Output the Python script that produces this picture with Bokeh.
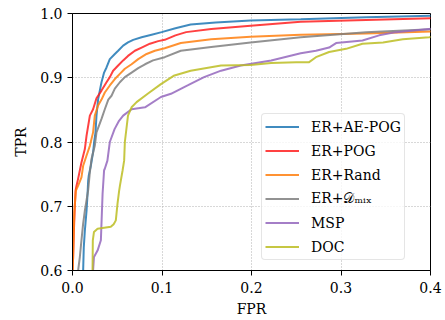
from bokeh.plotting import figure
from bokeh.models import Legend, LegendItem, FixedTicker, PrintfTickFormatter, Range1d
from bokeh.embed import file_html
from bokeh.resources import INLINE

# ROC curves (FPR, TPR)
aepog_fpr = [0.0119, 0.0126, 0.0138, 0.0157, 0.0168, 0.0175, 0.0182, 0.0205, 0.023, 0.0242, 0.0257, 0.0268, 0.0286, 0.0305, 0.0324, 0.0353, 0.038, 0.0417, 0.0473, 0.051, 0.0566, 0.062, 0.0678, 0.0772, 0.0884, 0.0996, 0.115, 0.132, 0.16, 0.199, 0.255, 0.328, 0.406]
aepog_tpr = [0.600, 0.636, 0.662, 0.693, 0.719, 0.740, 0.748, 0.763, 0.784, 0.800, 0.815, 0.841, 0.866, 0.880, 0.893, 0.908, 0.916, 0.929, 0.937, 0.942, 0.950, 0.955, 0.959, 0.963, 0.967, 0.971, 0.977, 0.983, 0.986, 0.989, 0.991, 0.994, 0.9966]

pog_fpr = [0.0, 0.0007, 0.0015, 0.0026, 0.0035, 0.0045, 0.0063, 0.010, 0.0138, 0.0157, 0.0194, 0.023, 0.0268, 0.0324, 0.038, 0.0417, 0.0454, 0.051, 0.0566, 0.062, 0.0697, 0.0772, 0.0865, 0.0958, 0.103, 0.115, 0.127, 0.155, 0.199, 0.255, 0.328, 0.406]
pog_tpr = [0.600, 0.620, 0.660, 0.700, 0.725, 0.732, 0.743, 0.768, 0.789, 0.810, 0.841, 0.851, 0.868, 0.880, 0.893, 0.901, 0.911, 0.919, 0.927, 0.934, 0.942, 0.947, 0.953, 0.957, 0.959, 0.966, 0.971, 0.976, 0.981, 0.987, 0.990, 0.993]

rand_fpr = [0.0003, 0.001, 0.002, 0.0037, 0.0063, 0.010, 0.0119, 0.0157, 0.0194, 0.023, 0.0249, 0.0286, 0.0324, 0.0361, 0.0417, 0.0473, 0.0529, 0.0585, 0.066, 0.0734, 0.0828, 0.092, 0.103, 0.121, 0.155, 0.199, 0.255, 0.328, 0.406]
rand_tpr = [0.600, 0.640, 0.690, 0.724, 0.732, 0.745, 0.763, 0.779, 0.794, 0.815, 0.841, 0.857, 0.866, 0.877, 0.888, 0.898, 0.906, 0.914, 0.921, 0.929, 0.937, 0.942, 0.946, 0.954, 0.960, 0.964, 0.967, 0.969, 0.972]

mix_fpr = [0.0063, 0.0082, 0.010, 0.0119, 0.0138, 0.0175, 0.0194, 0.0213, 0.0249, 0.0268, 0.0324, 0.0361, 0.040, 0.0436, 0.0473, 0.0529, 0.0585, 0.066, 0.0734, 0.081, 0.090, 0.103, 0.121, 0.155, 0.199, 0.255, 0.328, 0.406]
mix_tpr = [0.600, 0.621, 0.647, 0.673, 0.693, 0.725, 0.753, 0.774, 0.794, 0.815, 0.836, 0.851, 0.866, 0.872, 0.883, 0.893, 0.901, 0.908, 0.915, 0.921, 0.927, 0.932, 0.942, 0.948, 0.955, 0.963, 0.971, 0.976]

msp_fpr = [0.023, 0.024, 0.028, 0.0317, 0.0336, 0.0353, 0.036, 0.039, 0.0417, 0.047, 0.052, 0.0566, 0.066, 0.081, 0.0988, 0.110, 0.1286, 0.147, 0.166, 0.188, 0.222, 0.255, 0.272, 0.2867, 0.2945, 0.324, 0.3426, 0.3616, 0.3985, 0.406]
msp_tpr = [0.600, 0.621, 0.631, 0.647, 0.719, 0.756, 0.758, 0.771, 0.800, 0.820, 0.833, 0.841, 0.851, 0.854, 0.870, 0.875, 0.888, 0.901, 0.911, 0.919, 0.927, 0.938, 0.942, 0.947, 0.954, 0.958, 0.966, 0.971, 0.976, 0.9765]

doc_fpr = [0.0224, 0.0227, 0.024, 0.028, 0.0428, 0.046, 0.0484, 0.0503, 0.0521, 0.053, 0.056, 0.0577, 0.0585, 0.062, 0.066, 0.0716, 0.084, 0.0988, 0.113, 0.132, 0.166, 0.199, 0.222, 0.250, 0.264, 0.272, 0.2867, 0.3057, 0.324, 0.347, 0.369, 0.3985, 0.406]
doc_tpr = [0.600, 0.647, 0.660, 0.665, 0.668, 0.672, 0.678, 0.704, 0.724, 0.732, 0.756, 0.771, 0.800, 0.841, 0.854, 0.862, 0.875, 0.890, 0.903, 0.911, 0.919, 0.920, 0.923, 0.924, 0.924, 0.932, 0.940, 0.945, 0.953, 0.955, 0.960, 0.963, 0.964]

labels = ["ER+AE-POG", "ER+POG", "ER+Rand", "ER+\U0001D49F\u2098\u1D62\u2093", "MSP", "DOC"]
colors = ["#1f77b4", "#ff2020", "#ff7f0e", "#7f7f7f", "#9467bd", "#bcbd22"]
series = [(aepog_fpr, aepog_tpr), (pog_fpr, pog_tpr), (rand_fpr, rand_tpr),
          (mix_fpr, mix_tpr), (msp_fpr, msp_tpr), (doc_fpr, doc_tpr)]

x_ticks = [0.0, 0.1, 0.2, 0.3, 0.4]
y_ticks = [0.6, 0.7, 0.8, 0.9, 1.0]

FONT = "DejaVu Serif"
FS = "14px"

p = figure(frame_width=358, frame_height=257, output_backend="svg", toolbar_location=None,
           x_range=Range1d(0, 0.4), y_range=Range1d(0.6, 1.0),
           min_border_left=72, min_border_right=15, min_border_top=13, min_border_bottom=50)

renderers = []
for (fx, ty), c in zip(series, colors):
    r = p.line(fx, ty, line_color=c, line_width=2, line_alpha=0.85)
    renderers.append(r)

p.outline_line_color = "black"
p.outline_line_width = 1
p.outline_line_alpha = 1

for ax, ticks in ((p.xaxis, x_ticks), (p.yaxis, y_ticks)):
    ax.ticker = FixedTicker(ticks=ticks)
    ax.formatter = PrintfTickFormatter(format="%.1f")
    ax.axis_line_color = "black"
    ax.major_tick_line_color = "black"
    ax.major_tick_in = 0
    ax.major_tick_out = 5
    ax.minor_tick_line_color = None
    ax.major_label_text_font = FONT
    ax.major_label_text_font_size = FS
    ax.major_label_text_color = "black"
    ax.axis_label_text_font = FONT
    ax.axis_label_text_font_size = FS
    ax.axis_label_text_font_style = "normal"
    ax.axis_label_text_color = "black"

p.xaxis.axis_label = "FPR"
p.yaxis.axis_label = "TPR"
p.xaxis.major_label_standoff = 6
p.yaxis.major_label_standoff = 5
p.xaxis.axis_label_standoff = 5
p.yaxis.axis_label_standoff = 8

p.grid.grid_line_color = "#b0b0b0"
p.grid.grid_line_dash = "1 2"
p.grid.grid_line_width = 1
p.xgrid.ticker = FixedTicker(ticks=x_ticks)
p.ygrid.ticker = FixedTicker(ticks=y_ticks)

legend = Legend(items=[LegendItem(label=l, renderers=[r]) for l, r in zip(labels, renderers)],
                location=(189, 10))
legend.label_text_font = FONT
legend.label_text_font_size = FS
legend.label_text_color = "black"
legend.glyph_width = 34
legend.glyph_height = 19
legend.label_height = 19
legend.label_standoff = 12
legend.spacing = 5
legend.padding = 3
legend.margin = 0
legend.border_line_color = "#cccccc"
legend.border_line_width = 1
legend.border_radius = 4
legend.background_fill_alpha = 0.8
p.add_layout(legend)

open("out.html", "w").write(file_html(p, INLINE))
